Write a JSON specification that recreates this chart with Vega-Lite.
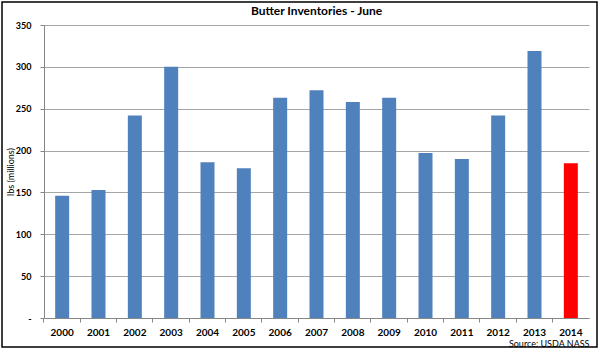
{
  "$schema": "https://vega.github.io/schema/vega-lite/v6.json",
  "width": 545,
  "height": 293,
  "autosize": "none",
  "padding": {"left": 44, "top": 25, "right": 11, "bottom": 37},
  "background": "white",
  "config": {"view": {"stroke": null}, "font": "Lato"},
  "title": {"text": "Butter Inventories - June", "font": "Lato", "fontSize": 12, "fontWeight": "bold", "color": "#000000", "anchor": "middle", "frame": "group", "offset": -17},
  "layer": [
    {
      "data": {"values": [
        {"year": "2000", "inventory": 146, "highlight": "no"},
        {"year": "2001", "inventory": 153, "highlight": "no"},
        {"year": "2002", "inventory": 242, "highlight": "no"},
        {"year": "2003", "inventory": 300, "highlight": "no"},
        {"year": "2004", "inventory": 186, "highlight": "no"},
        {"year": "2005", "inventory": 179, "highlight": "no"},
        {"year": "2006", "inventory": 263, "highlight": "no"},
        {"year": "2007", "inventory": 272, "highlight": "no"},
        {"year": "2008", "inventory": 258, "highlight": "no"},
        {"year": "2009", "inventory": 263, "highlight": "no"},
        {"year": "2010", "inventory": 197, "highlight": "no"},
        {"year": "2011", "inventory": 190, "highlight": "no"},
        {"year": "2012", "inventory": 242, "highlight": "no"},
        {"year": "2013", "inventory": 319, "highlight": "no"},
        {"year": "2014", "inventory": 185, "highlight": "yes"}
      ]},
      "mark": {"type": "bar"},
      "encoding": {
        "x": {
          "field": "year", "type": "nominal", "sort": null,
          "scale": {"paddingInner": 0.615, "paddingOuter": 0.3075},
          "axis": {
            "title": "Source: USDA NASS", "titleAnchor": "end", "titleAlign": "right", "titleFontSize": 9, "titleFontWeight": "normal", "titleColor": "#000000", "titlePadding": 2, "titleFont": "Lato",
            "labelAngle": 0, "labelFontSize": 10, "labelFontWeight": "bold", "labelColor": "#000000", "labelPadding": 5, "labelFont": "Lato",
            "bandPosition": -0.8, "labelOffset": 0,
            "domainColor": "#868686", "tickColor": "#868686", "tickSize": 4, "grid": false
          }
        },
        "y": {
          "field": "inventory", "type": "quantitative",
          "scale": {"domain": [0, 350], "nice": false},
          "axis": {
            "title": "lbs (millions)", "titleFontSize": 9, "titleFontWeight": "normal", "titleColor": "#000000", "titleFont": "Lato", "titleX": -34, "titleBaseline": "middle",
            "values": [0, 50, 100, 150, 200, 250, 300, 350],
            "labelExpr": "datum.value == 0 ? '-' : datum.label",
            "labelFontSize": 9, "labelFontWeight": "bold", "labelColor": "#000000", "labelPadding": 9, "labelFont": "Lato",
            "domainColor": "#868686", "tickColor": "#868686", "tickSize": 4,
            "grid": true, "gridColor": "#a6a6a6", "gridWidth": 1
          }
        },
        "color": {
          "field": "highlight", "type": "nominal",
          "scale": {"domain": ["no", "yes"], "range": ["#4F81BD", "#FF0000"]},
          "legend": null
        }
      }
    },
    {
      "data": {"values": [{"frame": 1}]},
      "mark": {"type": "rect", "fill": null, "stroke": "#000000", "strokeWidth": 1.5,
        "x": {"expr": "-42"}, "x2": {"expr": "width + 8"}, "y": {"expr": "-23"}, "y2": {"expr": "height + 29"}},
      "encoding": {}
    }
  ]
}
